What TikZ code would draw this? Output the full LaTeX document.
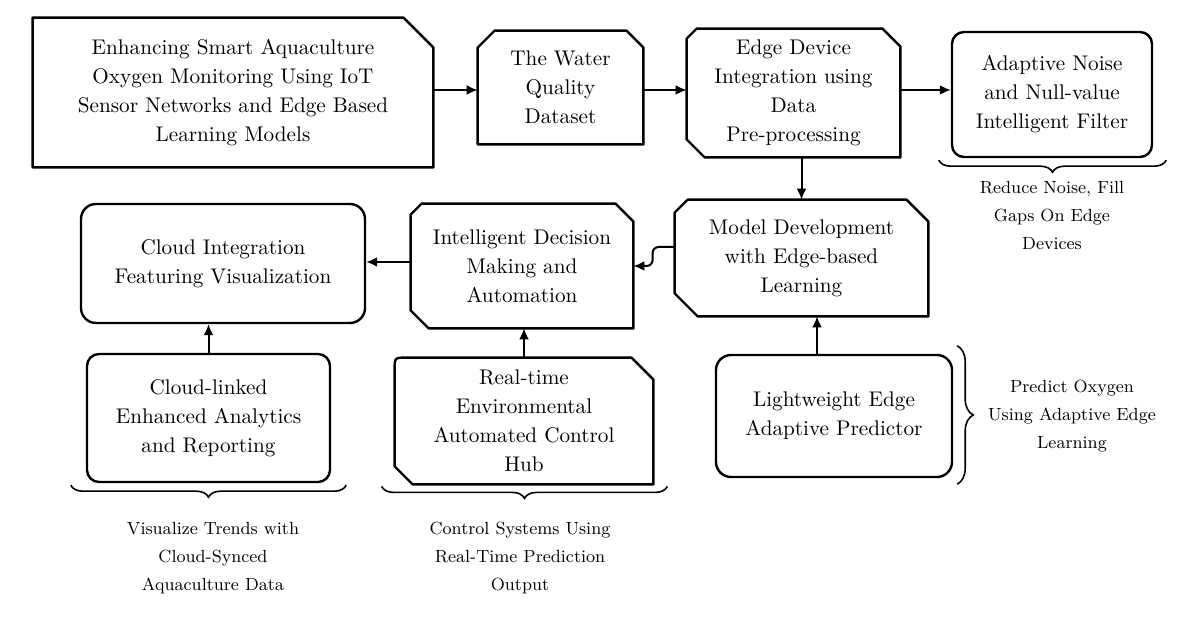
\documentclass[tikz,border=0pt]{standalone}
\usetikzlibrary{arrows.meta,decorations.pathreplacing}

% outline with cut corners: node, tl, tr, br, bl
\newcommand{\cutframe}[5]{%
  \draw[frame] ([xshift=#2]#1.north west) -- ([xshift=-#3]#1.north east)
    -- ([yshift=-#3]#1.north east) -- ([yshift=#4]#1.south east)
    -- ([xshift=-#4]#1.south east) -- ([xshift=#5]#1.south west)
    -- ([yshift=#5]#1.south west) -- ([yshift=-#2]#1.north west) -- cycle;}

\begin{document}
\begin{tikzpicture}[x=0.5pt,y=-0.5pt]
        \tikzstyle{txt} = [align=center,font=\fontsize{10.6}{14.5}\selectfont]
        \tikzstyle{slot} = [txt,rectangle,inner sep=0pt]
        \tikzstyle{rbox} = [txt,rectangle,draw,line width=1.2pt,inner sep=0pt]
        \tikzstyle{frame} = [line width=1.2pt,line join=round]
        \tikzstyle{arr} = [line width=1pt,-{Latex[length=5.5pt,width=5pt]}]
        \tikzstyle{brc} = [decorate,line width=0.8pt]
        \tikzstyle{note} = [align=center,font=\fontsize{8.8}{14}\selectfont]
        \useasboundingbox (0,0) rectangle (1200,641);

        % top row
        \node[slot,minimum width=200pt,minimum height=74.5pt] (title) at (233,92.5)
          {Enhancing Smart Aquaculture\\Oxygen Monitoring Using IoT\\Sensor Networks and Edge Based\\Learning Models};
        \cutframe{title}{0pt}{15pt}{0pt}{0pt}
        \node[slot,minimum width=82.5pt,minimum height=56.5pt] (data) at (560.5,87.5)
          {The Water\\Quality\\Dataset};
        \cutframe{data}{8.5pt}{8.5pt}{0pt}{0pt}
        \node[slot,minimum width=106.5pt,minimum height=64pt] (edge) at (793.5,93)
          {Edge Device\\Integration using\\Data\\Pre-processing};
        \cutframe{edge}{5pt}{9pt}{0pt}{9pt}
        \node[rbox,rounded corners=6pt,minimum width=100pt,minimum height=62.5pt] (noise) at (1052,94.5)
          {Adaptive Noise\\and Null-value\\Intelligent Filter};
        \draw[brc,decoration={brace,amplitude=6pt}] ([xshift=6.5pt,yshift=-1pt]noise.south east) -- ([xshift=-6pt,yshift=-1pt]noise.south west);
        \node[note] (noiseNote) at (1052,215) {Reduce Noise, Fill\\Gaps On Edge\\Devices};

        % middle row
        \node[slot,minimum width=126.5pt,minimum height=58pt] (model) at (801.5,258)
          {Model Development\\with Edge-based\\Learning};
        \cutframe{model}{6.5pt}{11pt}{0pt}{11.5pt}
        \node[slot,minimum width=111pt,minimum height=62pt] (decision) at (522,266)
          {Intelligent Decision\\Making and\\Automation};
        \cutframe{decision}{5.5pt}{9pt}{0pt}{9pt}
        \node[rbox,rounded corners=7.5pt,minimum width=142pt,minimum height=59.5pt] (cloud) at (223,263.5)
          {Cloud Integration\\Featuring Visualization};

        % bottom row
        \node[rbox,rounded corners=6pt,minimum width=121.5pt,minimum height=64pt] (clink) at (208.5,418)
          {Cloud-linked\\Enhanced Analytics\\and Reporting};
        \draw[brc,decoration={brace,amplitude=6pt}] ([xshift=7.5pt,yshift=-1pt]clink.south east) -- ([xshift=-7.5pt,yshift=-1pt]clink.south west);
        \node[note] (clinkNote) at (213,558) {Visualize Trends with\\Cloud-Synced\\Aquaculture Data};

        \node[slot,minimum width=129pt,minimum height=63pt] (rt) at (524,421)
          {Real-time\\Environmental\\Automated Control\\Hub};
        \draw[frame] ([xshift=6pt]rt.north west) -- ([xshift=-11pt]rt.north east) -- ([yshift=-11pt]rt.north east)
          -- (rt.south east) -- ([xshift=9pt]rt.south west) -- ([yshift=9pt]rt.south west)
          -- ([yshift=-6pt]rt.north west) .. controls (rt.north west) .. ([xshift=6pt]rt.north west);
        \draw[brc,decoration={brace,amplitude=6pt}] ([xshift=7pt,yshift=-1pt]rt.south east) -- ([xshift=-6.5pt,yshift=-1pt]rt.south west);
        \node[note] (rtNote) at (520,558) {Control Systems Using\\Real-Time Prediction\\Output};

        \node[rbox,rounded corners=7.5pt,minimum width=118pt,minimum height=61pt] (light) at (834,416)
          {Lightweight Edge\\Adaptive Predictor};
        \draw[brc,decoration={brace,amplitude=8pt}] ([xshift=2pt,yshift=4pt]light.north east) -- ([xshift=2pt,yshift=-3pt]light.south east);
        \node[note] (lightNote) at (1072,416) {Predict Oxygen\\Using Adaptive Edge\\Learning};

        % links
        \draw[arr] (title.east |- 0,90) -- (data.west |- 0,90);
        \draw[arr] (data.east |- 0,90) -- (edge.west |- 0,90);
        \draw[arr] (edge.east |- 0,90) -- (noise.west |- 0,90);
        \draw[arr] (edge.south -| model.north) -- (model.north);
        \draw[arr,rounded corners=3pt] (model.west |- 0,247) -- ++(-22,0) |- (decision.east);
        \draw[arr] (decision.west |- 0,262) -- (cloud.east |- 0,262);
        \draw[arr] (clink.north) -- (cloud.south -| clink.north);
        \draw[arr] (rt.north) -- (decision.south -| rt.north);
        \draw[arr] ([xshift=-8.5pt]light.north) -- ([xshift=-8.5pt]light.north |- model.south);
\end{tikzpicture}
\end{document}
